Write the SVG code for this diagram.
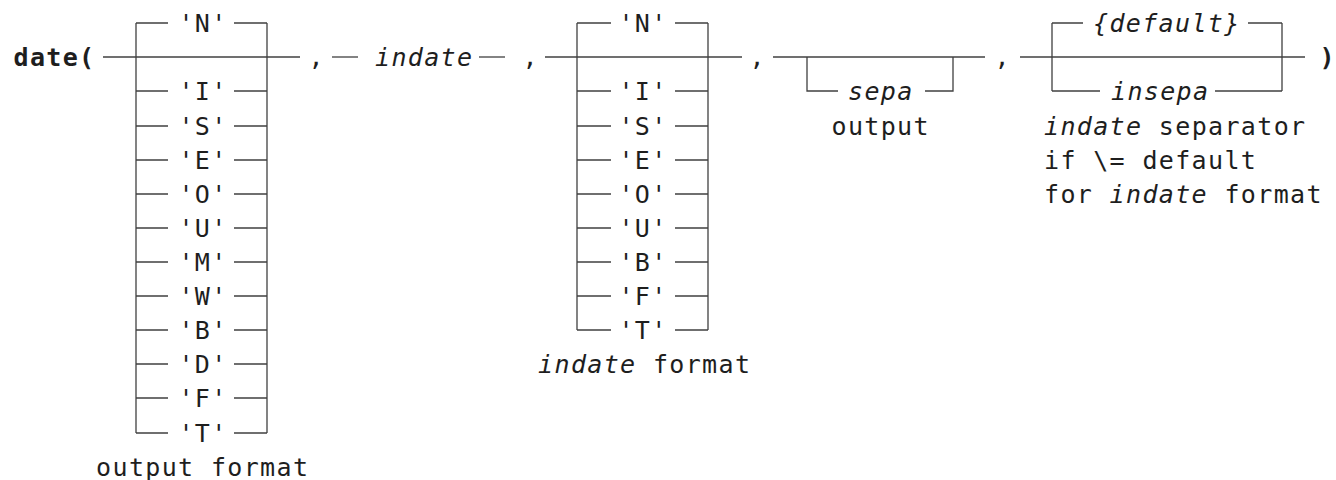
<svg xmlns="http://www.w3.org/2000/svg" width="1336" height="480" viewBox="0 0 1336 480">
<style>
text{font-family:"DejaVu Sans Mono","Liberation Mono",monospace;font-size:25px;letter-spacing:1.35px;fill:#1e1e1e}
.b{font-weight:bold}
.i{font-style:italic}
.m{text-anchor:middle}
#connectors line,#connectors path{stroke:#404040;stroke-width:1.3;fill:none}
</style>
<rect width="1336" height="480" fill="#ffffff"/>
<g id="connectors">
<line x1="103" y1="57" x2="300" y2="57"/>
<line x1="332" y1="57" x2="358" y2="57"/>
<line x1="479" y1="57" x2="505" y2="57"/>
<line x1="545" y1="57" x2="742" y2="57"/>
<line x1="773" y1="57" x2="985" y2="57"/>
<line x1="1020" y1="57" x2="1305" y2="57"/>
<line x1="136" y1="23" x2="136" y2="433"/>
<line x1="267" y1="23" x2="267" y2="433"/>
<path d="M136 23H168M234 23H267M136 91H168M234 91H267M136 126H168M234 126H267M136 160H168M234 160H267M136 194H168M234 194H267M136 228H168M234 228H267M136 262H168M234 262H267M136 296H168M234 296H267M136 330H168M234 330H267M136 364H168M234 364H267M136 398H168M234 398H267M136 433H168M234 433H267"/>
<line x1="577" y1="23" x2="577" y2="330"/>
<line x1="708" y1="23" x2="708" y2="330"/>
<path d="M577 23H611M675 23H708M577 91H611M675 91H708M577 126H611M675 126H708M577 160H611M675 160H708M577 194H611M675 194H708M577 228H611M675 228H708M577 262H611M675 262H708M577 296H611M675 296H708M577 330H611M675 330H708"/>
<path d="M807 57V91H838M925 91H953V57"/>
<path d="M1052 23V91M1282 23V91M1052 23H1083M1248 23H1282M1052 91H1100M1215 91H1282"/>
</g>
<g id="start"><text class="b" x="13.5" y="65.5">date(</text></g>
<g id="comma1"><text class="m" x="316.7" y="65.5">,</text></g>
<g id="indate"><text class="i" x="375" y="65.5">indate</text></g>
<g id="comma2"><text class="m" x="530.7" y="65.5">,</text></g>
<g id="comma3"><text class="m" x="757.7" y="65.5">,</text></g>
<g id="comma4"><text class="m" x="1002.7" y="65.5">,</text></g>
<g id="end"><text class="b m" x="1327.7" y="65.5">)</text></g>
<g id="output-format">
<text class="m" x="203" y="31.5">'N'</text>
<text class="m" x="203" y="99.5">'I'</text>
<text class="m" x="203" y="134.5">'S'</text>
<text class="m" x="203" y="168.5">'E'</text>
<text class="m" x="203" y="202.5">'O'</text>
<text class="m" x="203" y="236.5">'U'</text>
<text class="m" x="203" y="270.5">'M'</text>
<text class="m" x="203" y="304.5">'W'</text>
<text class="m" x="203" y="338.5">'B'</text>
<text class="m" x="203" y="372.5">'D'</text>
<text class="m" x="203" y="406.5">'F'</text>
<text class="m" x="203" y="441.5">'T'</text>
<text class="m" x="202.7" y="475.5">output format</text>
</g>
<g id="indate-format">
<text class="m" x="643" y="31.5">'N'</text>
<text class="m" x="643" y="99.5">'I'</text>
<text class="m" x="643" y="134.5">'S'</text>
<text class="m" x="643" y="168.5">'E'</text>
<text class="m" x="643" y="202.5">'O'</text>
<text class="m" x="643" y="236.5">'U'</text>
<text class="m" x="643" y="270.5">'B'</text>
<text class="m" x="643" y="304.5">'F'</text>
<text class="m" x="643" y="338.5">'T'</text>
<text class="m" x="644.7" y="372.5"><tspan class="i">indate</tspan> format</text>
</g>
<g id="sepa">
<text class="i" x="848" y="99.5">sepa</text>
<text class="m" x="880.7" y="134.5">output</text>
</g>
<g id="insepa">
<text class="i" x="1093" y="31.5">{default}</text>
<text class="i" x="1111" y="99.5">insepa</text>
<text x="1044" y="134.5"><tspan class="i">indate</tspan> separator</text>
<text x="1044" y="168.5">if \= default</text>
<text x="1044" y="202.5">for <tspan class="i">indate</tspan> format</text>
</g>
</svg>
